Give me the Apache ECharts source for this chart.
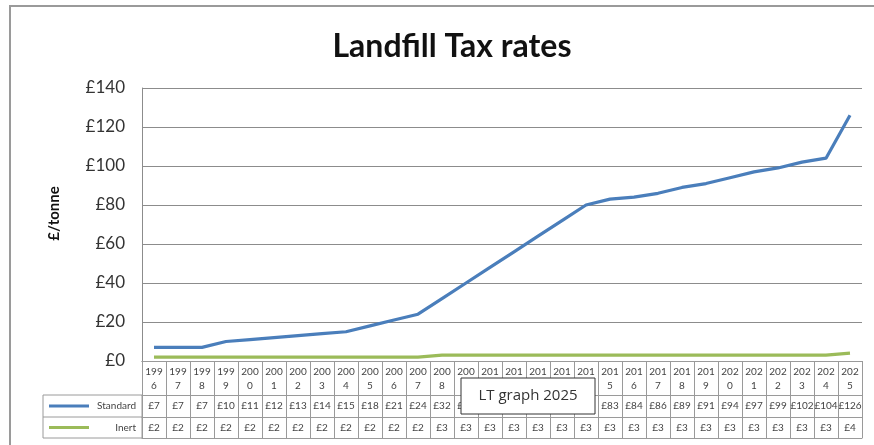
<!DOCTYPE html>
<html>
<head>
<meta charset="utf-8">
<script src="https://cdn.jsdelivr.net/npm/echarts@6/dist/echarts.min.js"></script>
<style>
  html, body { margin: 0; padding: 0; background: #fff; }
  #chart { width: 874px; height: 445px; }
</style>
</head>
<body>
<div id="chart"></div>
<script>
const years = [
  '1996', '1997', '1998', '1999', '2000', '2001', '2002', '2003', '2004', '2005',
  '2006', '2007', '2008', '2009', '2010', '2011', '2012', '2013', '2014', '2015',
  '2016', '2017', '2018', '2019', '2020', '2021', '2022', '2023', '2024', '2025',
];
const standard = [7, 7, 7, 10, 11, 12, 13, 14, 15, 18, 21, 24, 32, 40, 48, 56, 64, 72, 80, 83, 84, 86, 89, 91, 94, 97, 99, 102, 104, 126];
const inert = [2, 2, 2, 2, 2, 2, 2, 2, 2, 2, 2, 2, 3, 3, 3, 3, 3, 3, 3, 3, 3, 3, 3, 3, 3, 3, 3, 3, 3, 4];
const yTicks = [0, 20, 40, 60, 80, 100, 120, 140];

const BLUE = '#4a7ebb';
const GREEN = '#9bbb59';
const GRID_LINE = '#8c8c8c';
const TABLE_LINE = '#9a9a9a';
const FONT = 'Lato, "Open Sans", sans-serif';

const PLOT_LEFT = 142;
const PLOT_RIGHT = 862;
const PLOT_BOTTOM = 361;
const ROW_YEAR = 34;
const ROW_STD = 22;
const ROW_INERT = 21;

// one table row drawn as an extra category axis under the plot
function tableAxis(labels, offset, tickLen, labelOpts) {
  return {
    type: 'category',
    gridIndex: 0,
    position: 'bottom',
    offset: offset,
    boundaryGap: true,
    data: labels,
    axisLine: { show: true, lineStyle: { color: TABLE_LINE, width: 1 } },
    axisTick: { show: tickLen > 0, interval: 0, length: tickLen, lineStyle: { color: TABLE_LINE, width: 1 } },
    axisLabel: Object.assign({
      show: true,
      interval: 0,
      color: '#444',
      fontFamily: FONT,
      fontSize: 10,
    }, labelOpts),
    splitLine: { show: false },
  };
}

const chart = echarts.init(document.getElementById('chart'), null, { renderer: 'canvas' });

const yearLabels = years.map((y) => y.slice(0, 3) + '\n' + y.slice(3));
const stdLabels = standard.map((v) => '£' + v);
const inertLabels = inert.map((v) => '£' + v);

const legendTop = PLOT_BOTTOM + ROW_YEAR;
const legendMid = legendTop + ROW_STD;
const legendBottom = legendMid + ROW_INERT;

chart.setOption({
  backgroundColor: '#fff',
  animation: false,
  title: {
    text: 'Landfill Tax rates',
    left: 447,
    textAlign: 'center',
    top: 26,
    textStyle: { fontFamily: FONT, fontSize: 32, fontWeight: 'bold', color: '#111' },
  },
  grid: { left: PLOT_LEFT, right: 874 - PLOT_RIGHT, top: 88, bottom: 445 - PLOT_BOTTOM, containLabel: false },
  xAxis: [
    {
      type: 'category',
      data: years,
      boundaryGap: true,
      axisLine: { show: true, lineStyle: { color: GRID_LINE } },
      axisTick: { show: false },
      axisLabel: { show: false },
    },
    tableAxis(yearLabels, 0, ROW_YEAR, { margin: 4, lineHeight: 14 }),
    tableAxis(stdLabels, ROW_YEAR, ROW_STD, { margin: 6 }),
    tableAxis(inertLabels, ROW_YEAR + ROW_STD, ROW_INERT, { margin: 6 }),
    tableAxis(years.map(() => ''), ROW_YEAR + ROW_STD + ROW_INERT, 0, { show: false }),
  ],
  yAxis: {
    type: 'value',
    min: yTicks[0],
    max: yTicks[yTicks.length - 1],
    interval: 20,
    name: '£/tonne',
    nameLocation: 'middle',
    nameGap: 80,
    nameRotate: 90,
    nameTextStyle: { fontFamily: FONT, fontSize: 15, fontWeight: 'bold', color: '#111', padding: [0, 0, 0, 22] },
    axisLine: { show: true, lineStyle: { color: GRID_LINE } },
    axisTick: { show: false },
    axisLabel: { formatter: '£{value}', color: '#333', fontFamily: FONT, fontSize: 17, margin: 17 },
    splitLine: { lineStyle: { color: GRID_LINE, width: 1.2 } },
  },
  series: [
    {
      name: 'Standard',
      type: 'line',
      data: standard,
      symbol: 'none',
      lineStyle: { color: BLUE, width: 3.2 },
      itemStyle: { color: BLUE },
      z: 3,
    },
    {
      name: 'Inert',
      type: 'line',
      data: inert,
      symbol: 'none',
      lineStyle: { color: GREEN, width: 3.2 },
      itemStyle: { color: GREEN },
      z: 2,
    },
  ],
  graphic: [
    // outer chart frame
    {
      type: 'polyline',
      shape: { points: [[10, 445], [10, 6], [874, 6]] },
      style: { stroke: '#9a9a9a', lineWidth: 2, fill: null },
    },
    // legend key cells of the data table
    {
      type: 'rect',
      shape: { x: 43, y: legendTop, width: PLOT_LEFT - 43, height: legendBottom - legendTop },
      style: { stroke: TABLE_LINE, lineWidth: 1, fill: null },
    },
    {
      type: 'line',
      shape: { x1: 43, y1: legendMid, x2: PLOT_LEFT, y2: legendMid },
      style: { stroke: TABLE_LINE, lineWidth: 1 },
    },
    {
      type: 'line',
      shape: { x1: 49, y1: (legendTop + legendMid) / 2, x2: 89, y2: (legendTop + legendMid) / 2 },
      style: { stroke: BLUE, lineWidth: 3 },
    },
    {
      type: 'line',
      shape: { x1: 49, y1: (legendMid + legendBottom) / 2, x2: 89, y2: (legendMid + legendBottom) / 2 },
      style: { stroke: GREEN, lineWidth: 3 },
    },
    {
      type: 'text',
      x: 136,
      y: (legendTop + legendMid) / 2,
      style: { text: 'Standard', fill: '#444', font: '10px ' + FONT, align: 'right', verticalAlign: 'middle' },
    },
    {
      type: 'text',
      x: 136,
      y: (legendMid + legendBottom) / 2,
      style: { text: 'Inert', fill: '#444', font: '10px ' + FONT, align: 'right', verticalAlign: 'middle' },
    },
    // hover caption that sits over the table in the screenshot
    {
      type: 'rect',
      z: 100,
      shape: { x: 461, y: 378, width: 134, height: 36 },
      style: { fill: '#fff', stroke: '#333', lineWidth: 1 },
    },
    {
      type: 'text',
      z: 101,
      x: 528,
      y: 396,
      style: { text: 'LT graph 2025', fill: '#333', font: '15px "Open Sans", sans-serif', align: 'center', verticalAlign: 'middle' },
    },
  ],
});
</script>
</body>
</html>
